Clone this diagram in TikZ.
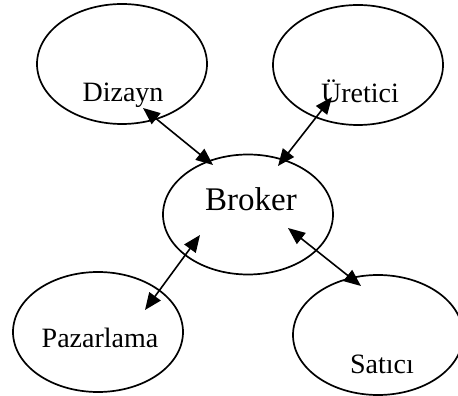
\documentclass[tikz,border=0pt]{standalone}
\usepackage{fontspec}
\setmainfont{Liberation Serif}
\usetikzlibrary{shapes.geometric,arrows.meta,calc}

\tikzset{
	blob/.style={draw, ellipse, line width=1.7pt, minimum width=170pt, minimum height=120pt, inner sep=0pt},
	tag/.style={anchor=base, font=\fontsize{28}{30}\selectfont},
	link/.style={line width=1.6pt, {Triangle[length=17pt,width=14pt]}-{Triangle[length=17pt,width=14pt]}}
}

\begin{document}
\begin{tikzpicture}[x=1pt,y=1pt]
			\useasboundingbox (0,0) rectangle (458,396);
			% the five ellipses
			\node[blob] (dizayn) at (122,332) {};
			\node[blob] (uretici) at (358,331) {};
			\node[blob] (broker) at (248,181.5) {};
			\node[blob] (pazarlama) at (98,64) {};
			\node[blob] (satici) at (378,61) {};
			% labels sit a bit below the centres
			\node[tag] (dizayntxt) at (123,294) {Dizayn};
			\node[tag] (ureticitxt) at (360,293) {Üretici};
			\node[tag, font=\fontsize{33}{36}\selectfont] (brokertxt) at (251,185) {Broker};
			\node[tag] (pazarlamatxt) at (100,48) {Pazarlama};
			\node[tag] (saticitxt) at (382,22) {Satıcı};
			% two-way links to the broker
			\draw[link] ($(dizayn)+(21,-44)$) -- ($(broker)+(-35,49.5)$);
			\draw[link] ($(uretici)+(-26,-32)$) -- ($(broker)+(30,48.5)$);
			\draw[link] ($(broker)+(-48,-20.5)$) -- ($(pazarlama)+(47,22)$);
			\draw[link] ($(broker)+(40,-13.5)$) -- ($(satici)+(-17,49)$);
		\end{tikzpicture}
\end{document}
